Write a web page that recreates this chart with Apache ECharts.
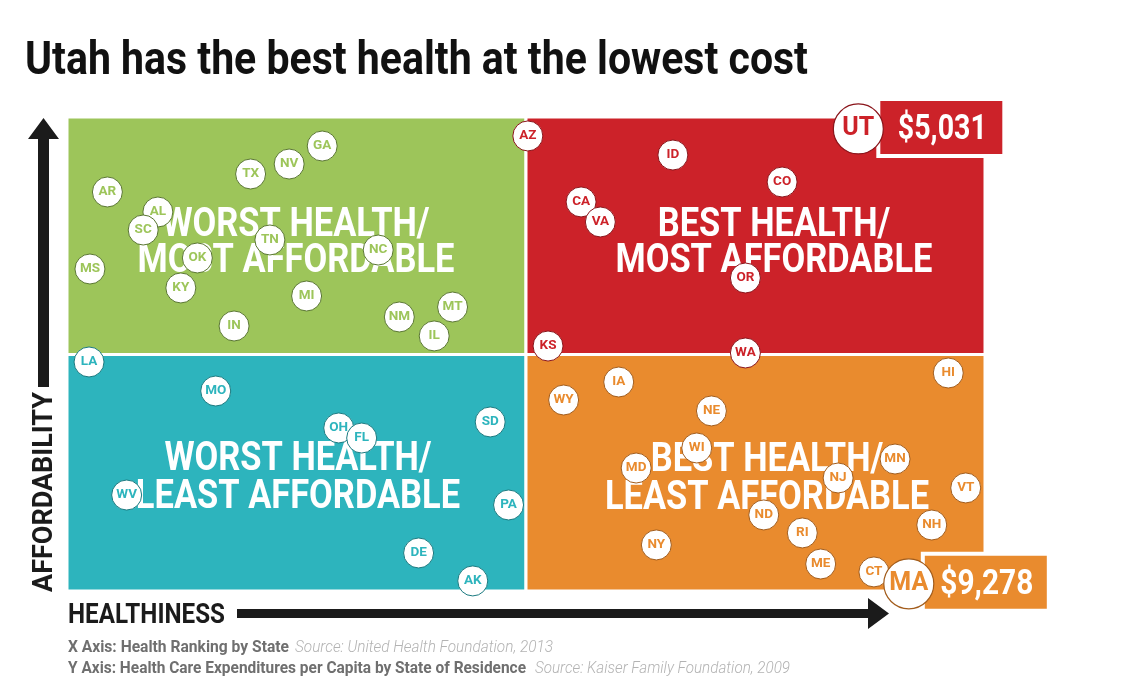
<!DOCTYPE html>
<html><head><meta charset="utf-8">
<script src="https://cdn.jsdelivr.net/npm/echarts@6/dist/echarts.min.js"></script>
<style>html,body{margin:0;padding:0;background:#fff}#c{width:1140px;height:688px}</style>
</head><body><div id="c"></div>
<script>
// ---- data (x: health score, higher = healthier; y: spending per capita, $) ----
const greenCodes  = ['GA','NV','TX','AR','AL','SC','TN','NC','OK','MS','KY','MI','MT','NM','IN','IL'];
const greenHealth = [27.8,24.2,20.0,4.4,9.9,8.3,22.1,33.9,14.2,2.5,12.4,26.1,42.0,36.2,18.2,40.0];
const greenSpend  = [5191,5359,5452,5620,5807,5975,6068,6162,6236,6339,6516,6591,6694,6787,6871,6964];

const redCodes  = ['AZ','ID','CO','CA','VA','OR','KS','WA'];
const redHealth = [50.2,66.0,77.9,56.0,58.1,73.9,52.4,73.9];
const redSpend  = [5097,5275,5527,5713,5900,6423,7058,7123];

const tealCodes  = ['LA','MO','SD','OH','FL','WV','PA','DE','AK'];
const tealHealth = [2.4,16.2,46.1,29.6,32.1,6.5,48.1,38.3,44.2];
const tealSpend  = [7207,7478,7767,7823,7917,8449,8542,8990,9251];

const orangeCodes  = ['HI','IA','WY','NE','WI','MN','MD','NJ','VT','ND','NH','RI','NY','ME','CT'];
const orangeHealth = [96.0,60.1,54.1,70.2,68.6,90.2,62.0,84.0,97.9,75.9,94.2,80.1,64.2,82.1,87.9];
const orangeSpend  = [7310,7394,7562,7664,8010,8113,8197,8290,8383,8635,8729,8803,8915,9093,9167];

const starCodes  = ['UT','MA'];
const starHealth = [86.2,91.7];
const starSpend  = [5031,9278];
const starLabels = ['$5,031','$9,278'];

const healthRange = [0, 100];
const spendRange  = [4920, 9345];
const healthSplit = 50;
const spendSplit  = 7137;

const quadTitles = [
  ['WORST HEALTH/','MOST AFFORDABLE'],
  ['BEST HEALTH/','MOST AFFORDABLE'],
  ['WORST HEALTH/','LEAST AFFORDABLE'],
  ['BEST HEALTH/','LEAST AFFORDABLE']
];
const titleText = 'Utah has the best health at the lowest cost';
const yAxisName = 'AFFORDABILITY';
const xAxisName = 'HEALTHINESS';
const note1a = 'X Axis: Health Ranking by State';
const note1b = 'Source: United Health Foundation, 2013';
const note2a = 'Y Axis: Health Care Expenditures per Capita by State of Residence';
const note2b = 'Source: Kaiser Family Foundation, 2009';

// ---- style ----
const C = {
  green:'#9DC55A', red:'#CC2229', teal:'#2DB4BD', orange:'#E98B2E',
  greenD:'#5a7732', redD:'#8a141a', tealD:'#1a7a80', orangeD:'#a25c1b'
};
const FF = 'Roboto, "Noto Sans", sans-serif';

const mctx = document.createElement('canvas').getContext('2d');
function fit(text, font, w){ mctx.font = font; return w / mctx.measureText(text).width; }

function stateSeries(codes, xs, ys, col, dark){
  return {
    type:'scatter', z:5, silent:true, symbol:'circle', symbolSize:30,
    itemStyle:{color:'#fff', borderColor:dark, borderWidth:1, opacity:1},
    label:{show:true, position:'inside', formatter:'{b}', color:col,
      fontFamily:FF, fontWeight:'bold', fontSize:13.5},
    data: codes.map((c,i)=>({name:c, value:[xs[i], ys[i]]}))
  };
}

const chart = echarts.init(document.getElementById('c'), null, {renderer:'canvas'});

const option = {
  backgroundColor:'#fff',
  animation:false,
  grid:{left:67, top:117, width:918, height:474, containLabel:false},
  xAxis:{type:'value', min:healthRange[0], max:healthRange[1], show:false},
  yAxis:{type:'value', min:spendRange[0], max:spendRange[1], inverse:true, show:false},
  series:[
    {
      type:'scatter', z:1, silent:true, data:[],
      markArea:{
        silent:true,
        label:{show:false},
        itemStyle:{borderColor:'#fff', borderWidth:3, opacity:1},
        data:[
          [{xAxis:healthRange[0], yAxis:spendRange[0], itemStyle:{color:C.green, opacity:1}}, {xAxis:healthSplit, yAxis:spendSplit}],
          [{xAxis:healthSplit, yAxis:spendRange[0], itemStyle:{color:C.red, opacity:1}}, {xAxis:healthRange[1], yAxis:spendSplit}],
          [{xAxis:healthRange[0], yAxis:spendSplit, itemStyle:{color:C.teal, opacity:1}}, {xAxis:healthSplit, yAxis:spendRange[1]}],
          [{xAxis:healthSplit, yAxis:spendSplit, itemStyle:{color:C.orange, opacity:1}}, {xAxis:healthRange[1], yAxis:spendRange[1]}]
        ]
      }
    },
    stateSeries(greenCodes, greenHealth, greenSpend, C.green, C.greenD),
    stateSeries(redCodes, redHealth, redSpend, C.red, C.redD),
    stateSeries(tealCodes, tealHealth, tealSpend, C.teal, C.tealD),
    stateSeries(orangeCodes, orangeHealth, orangeSpend, C.orange, C.orangeD),
    {
      type:'scatter', z:7, silent:true, symbol:'circle', symbolSize:50,
      itemStyle:{color:'#fff', borderWidth:1.2, opacity:1},
      label:{show:true, position:'inside', formatter:'{b}', fontFamily:FF, fontWeight:'bold', fontSize:25},
      data: starCodes.map((c,i)=>({name:c, value:[starHealth[i], starSpend[i]],
        label:{color: i===0 ? C.red : C.orange}, itemStyle:{borderColor: i===0 ? C.redD : C.orangeD}}))
    }
  ]
};
chart.setOption(option);

// ---- decorations / text ----
const g = [];
function txt(str, x, y, font, fill, w){
  const o = {type:'text', x:x, y:y, z:3, silent:true,
    style:{text:str, font:font, fill:fill, align:'left', verticalAlign:'middle'}};
  if (w) o.scaleX = fit(str, font, w);
  return o;
}
// title
const titleFont = 'bold 47px ' + FF;
g.push(txt(titleText, 25, 62, titleFont, '#111', 783));

// quadrant titles
const qFont = 'bold 40px ' + FF;
const qScale = fit('MOST AFFORDABLE', qFont, 317);
const qPos = [[296, 226, 262],[774, 226, 262],[298, 460, 498],[767, 461, 499]];
quadTitles.forEach((t,i)=>{
  t.forEach((line,j)=>{
    g.push({type:'text', x:qPos[i][0], y:qPos[i][j+1], z:3, silent:true, scaleX:qScale,
      style:{text:line, font:qFont, fill:'#fff', align:'center', verticalAlign:'middle'}});
  });
});

// axis arrows
g.push({type:'polygon', z:3, silent:true, shape:{points:[[43.5,118],[59,139],[49,139],[49,387],[38,387],[38,139],[28,139]]}, style:{fill:'#1b1b1b'}});
g.push({type:'polygon', z:3, silent:true, shape:{points:[[237,609],[868,609],[868,598],[889,613.5],[868,629],[868,618],[237,618]]}, style:{fill:'#1b1b1b'}});

// axis names
const axFont = 'bold 27px ' + FF;
g.push({type:'text', x:45, y:492, rotation:Math.PI/2, z:3, silent:true, scaleX:fit(yAxisName, axFont, 200),
  style:{text:yAxisName, font:axFont, fill:'#1b1b1b', align:'center', verticalAlign:'middle'}});
g.push(txt(xAxisName, 68, 616, axFont, '#1b1b1b', 157));

// notes
const nbFont = 'bold 16px ' + FF;
const niFont = 'italic 300 16px ' + FF;
g.push(txt(note1a, 68, 648, nbFont, '#6f6f6f', 221));
g.push(txt(note1b, 295, 648, niFont, '#b3b3b3', 258));
g.push(txt(note2a, 68, 669, nbFont, '#6f6f6f', 458));
g.push(txt(note2b, 535, 669, niFont, '#b3b3b3', 255));

// value boxes beside UT / MA
const boxCols = [C.red, C.orange];
const boxDx = [20, 14];
const boxW = [126, 126];
const valW = [89, 93];
starCodes.forEach((c,i)=>{
  const p = chart.convertToPixel({gridIndex:0}, [starHealth[i], starSpend[i]]);
  const bx = p[0] + boxDx[i], by = p[1] - 30;
  g.push({type:'rect', z:6, silent:true, shape:{x:bx, y:by, width:boxW[i], height:57},
    style:{fill:boxCols[i], stroke:'#fff', lineWidth:4}});
  const vf = 'bold 35px ' + FF;
  g.push({type:'text', z:6, silent:true, x:bx + boxW[i]/2 + 1, y:p[1] + 1, scaleX:fit(starLabels[i], vf, valW[i]),
    style:{text:starLabels[i], font:vf, fill:'#fff', align:'center', verticalAlign:'middle'}});
});

chart.setOption({graphic:{elements:g}});
</script>
</body></html>
